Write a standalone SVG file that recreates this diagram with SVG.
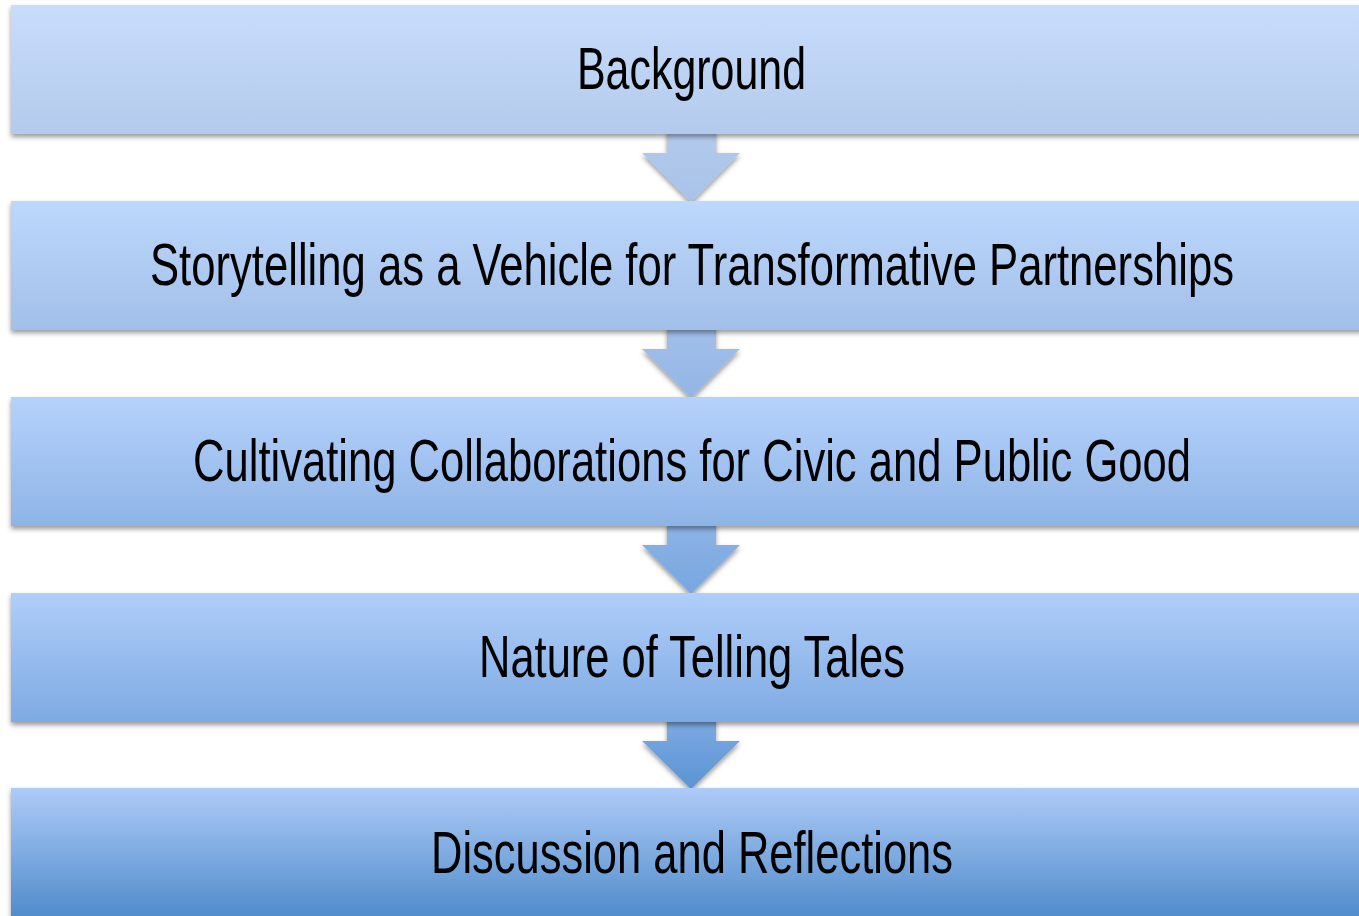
<svg xmlns="http://www.w3.org/2000/svg" width="1359" height="916" viewBox="0 0 1359 916">
<defs>
<filter id="sh" x="-5%" y="-20%" width="110%" height="150%">
<feDropShadow dx="0" dy="3" stdDeviation="2.5" flood-color="#000" flood-opacity="0.4"/>
</filter>
<linearGradient id="g1" x1="0" y1="0" x2="0" y2="1"><stop offset="0" stop-color="#c8ddfc"/><stop offset="1" stop-color="#b3caec"/></linearGradient>
<linearGradient id="g2" x1="0" y1="0" x2="0" y2="1"><stop offset="0" stop-color="#bdd8fd"/><stop offset="1" stop-color="#a2bfe9"/></linearGradient>
<linearGradient id="g3" x1="0" y1="0" x2="0" y2="1"><stop offset="0" stop-color="#b5d2fc"/><stop offset="1" stop-color="#8eb4e6"/></linearGradient>
<linearGradient id="g4" x1="0" y1="0" x2="0" y2="1"><stop offset="0" stop-color="#afcefa"/><stop offset="1" stop-color="#7eaae2"/></linearGradient>
<linearGradient id="g5" x1="0" y1="0" x2="0" y2="1"><stop offset="0" stop-color="#aecbf8"/><stop offset="1" stop-color="#4886c7"/></linearGradient>
<linearGradient id="a1" x1="0" y1="0" x2="0" y2="1"><stop offset="0" stop-color="#b3caec"/><stop offset="1" stop-color="#a8c2e8"/></linearGradient>
<linearGradient id="a2" x1="0" y1="0" x2="0" y2="1"><stop offset="0" stop-color="#a2bfe9"/><stop offset="1" stop-color="#93b6e5"/></linearGradient>
<linearGradient id="a3" x1="0" y1="0" x2="0" y2="1"><stop offset="0" stop-color="#8eb4e6"/><stop offset="1" stop-color="#76a6df"/></linearGradient>
<linearGradient id="a4" x1="0" y1="0" x2="0" y2="1"><stop offset="0" stop-color="#7eaae2"/><stop offset="1" stop-color="#5a93d4"/></linearGradient>
</defs>
<style>
text{font-family:"Liberation Sans Narrow","Liberation Sans",Arial,sans-serif;font-size:60px;fill:#000;text-anchor:middle}
.box{filter:url(#sh)}
</style>
<rect width="1359" height="916" fill="#fff"/>
<g id="connectors">
<path class="box" d="M667,130 L716,130 L716,153 L740,153 L691,202 L642,153 L667,153 Z" fill="url(#a1)"/>
<path class="box" d="M667,326 L716,326 L716,349 L740,349 L691,398 L642,349 L667,349 Z" fill="url(#a2)"/>
<path class="box" d="M667,522 L716,522 L716,545 L740,545 L691,594 L642,545 L667,545 Z" fill="url(#a3)"/>
<path class="box" d="M667,718 L716,718 L716,741 L740,741 L691,789 L642,741 L667,741 Z" fill="url(#a4)"/>
</g>
<g id="n1"><rect class="box" x="11" y="5" width="1362" height="129" fill="url(#g1)"/><text x="691.5" y="89" textLength="229" lengthAdjust="spacingAndGlyphs">Background</text></g>
<g id="n2"><rect class="box" x="11" y="201" width="1362" height="129" fill="url(#g2)"/><text x="692" y="285" textLength="1084" lengthAdjust="spacingAndGlyphs">Storytelling as a Vehicle for Transformative Partnerships</text></g>
<g id="n3"><rect class="box" x="11" y="397" width="1362" height="129" fill="url(#g3)"/><text x="692" y="481" textLength="998" lengthAdjust="spacingAndGlyphs">Cultivating Collaborations for Civic and Public Good</text></g>
<g id="n4"><rect class="box" x="11" y="593" width="1362" height="129" fill="url(#g4)"/><text x="692" y="677" textLength="426" lengthAdjust="spacingAndGlyphs">Nature of Telling Tales</text></g>
<g id="n5"><rect class="box" x="11" y="788" width="1362" height="140" fill="url(#g5)"/><text x="692" y="873" textLength="522" lengthAdjust="spacingAndGlyphs">Discussion and Reflections</text></g>
</svg>
